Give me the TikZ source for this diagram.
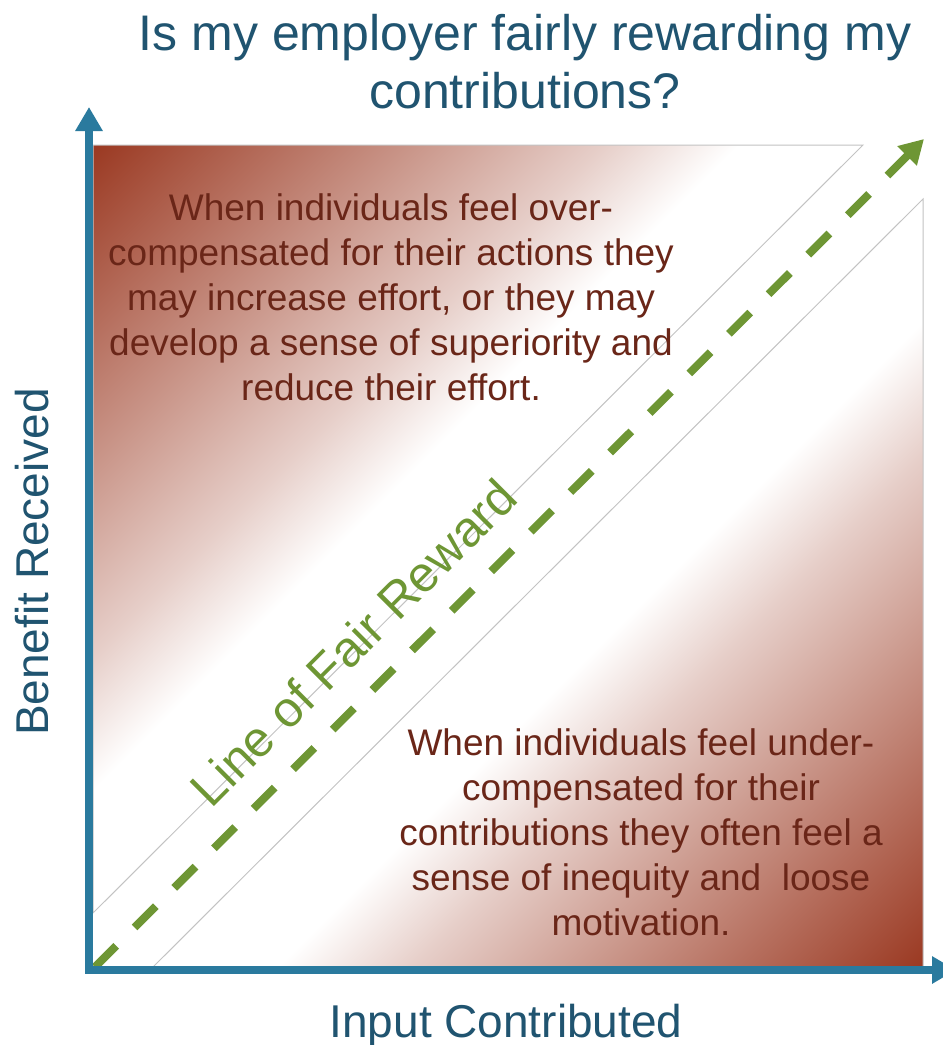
\documentclass[tikz,border=0pt]{standalone}
\usepackage{fontspec}
\setmainfont{Liberation Sans}
\usetikzlibrary{arrows.meta}

\definecolor{axisblue}{RGB}{42,122,158}
\definecolor{titleteal}{RGB}{32,84,112}
\definecolor{bodybrown}{RGB}{106,38,24}
\definecolor{fairgreen}{RGB}{110,150,52}
\definecolor{fadedark}{RGB}{155,58,35}
\colorlet{fademid}{fadedark!55!white}
\colorlet{fadelight}{fadedark!25!white}
\definecolor{edgegray}{RGB}{195,195,195}

% dark corner fading to white a little before the diagonal of a square bounding box
\pgfdeclareverticalshading{fadeband}{100bp}{color(0bp)=(white); color(55.7bp)=(white); color(62bp)=(fadelight); color(71.2bp)=(fademid); color(85.36bp)=(fadedark); color(100bp)=(fadedark)}

\begin{document}
\begin{tikzpicture}[x=1pt,y=-1pt,
  titletext/.style={text=titleteal, font=\fontsize{50}{58}\selectfont, align=center, inner sep=0pt},
  axislabel/.style={text=titleteal, font=\fontsize{46}{54}\selectfont, inner sep=0pt},
  bodytext/.style={text=bodybrown, font=\fontsize{37}{45}\selectfont, align=center, inner sep=0pt},
  fairtext/.style={text=fairgreen, font=\fontsize{50}{58}\selectfont, inner sep=0pt},
  region/.style={shading=fadeband, draw=edgegray, line width=1pt},
  axisline/.style={draw=axisblue, line width=8pt, line join=miter,
    {Triangle[width=26pt,length=24pt]}-{Triangle[width=26pt,length=24pt]}},
  fairarrow/.style={draw=fairgreen, line width=8pt, dash pattern=on 30pt off 26pt,
    -{Triangle[width=26pt,length=24pt]}}]

\useasboundingbox (0,0) rectangle (943,1045);
\fill[white] (0,0) rectangle (943,1045);

% over-compensated region (upper left) and under-compensated region (lower right)
\shadedraw[region, shading angle=45] (93,145) -- (863,145) -- (93,913) -- cycle;
\shadedraw[region, shading angle=-135] (153,967) -- (923,967) -- (923,199) -- cycle;

% line of fair reward
\coordinate (fairstart) at (95,967);
\coordinate (fairend) at (924,139);
\draw[fairarrow] (fairstart) -- (fairend);
\node[fairtext, rotate=45, anchor=base] (fairlabel) at (366,655) {Line of Fair Reward};

% texts (anchor=base sits on the last line)
\node[titletext, anchor=base] (title) at (525,108) {Is my employer fairly rewarding my\\contributions?};
\node[bodytext, anchor=base] (over) at (391,400) {When individuals feel over-\\compensated for their actions they\\may increase effort, or they may\\develop a sense of superiority and\\reduce their effort.};
\node[bodytext, anchor=base] (under) at (641,935) {When individuals feel under-\\compensated for their\\contributions they often feel a\\sense of inequity and\ \ loose\\motivation.};
\node[axislabel, rotate=90, anchor=base] (ylabel) at (48,562) {Benefit Received};
\node[axislabel, anchor=base] (xlabel) at (506,1037) {Input Contributed};

% axes
\coordinate (origin) at (89,970);
\coordinate (ytip) at (89,107);
\coordinate (xtip) at (956,970);
\draw[axisline] (ytip) -- (origin) -- (xtip);
\end{tikzpicture}
\end{document}
